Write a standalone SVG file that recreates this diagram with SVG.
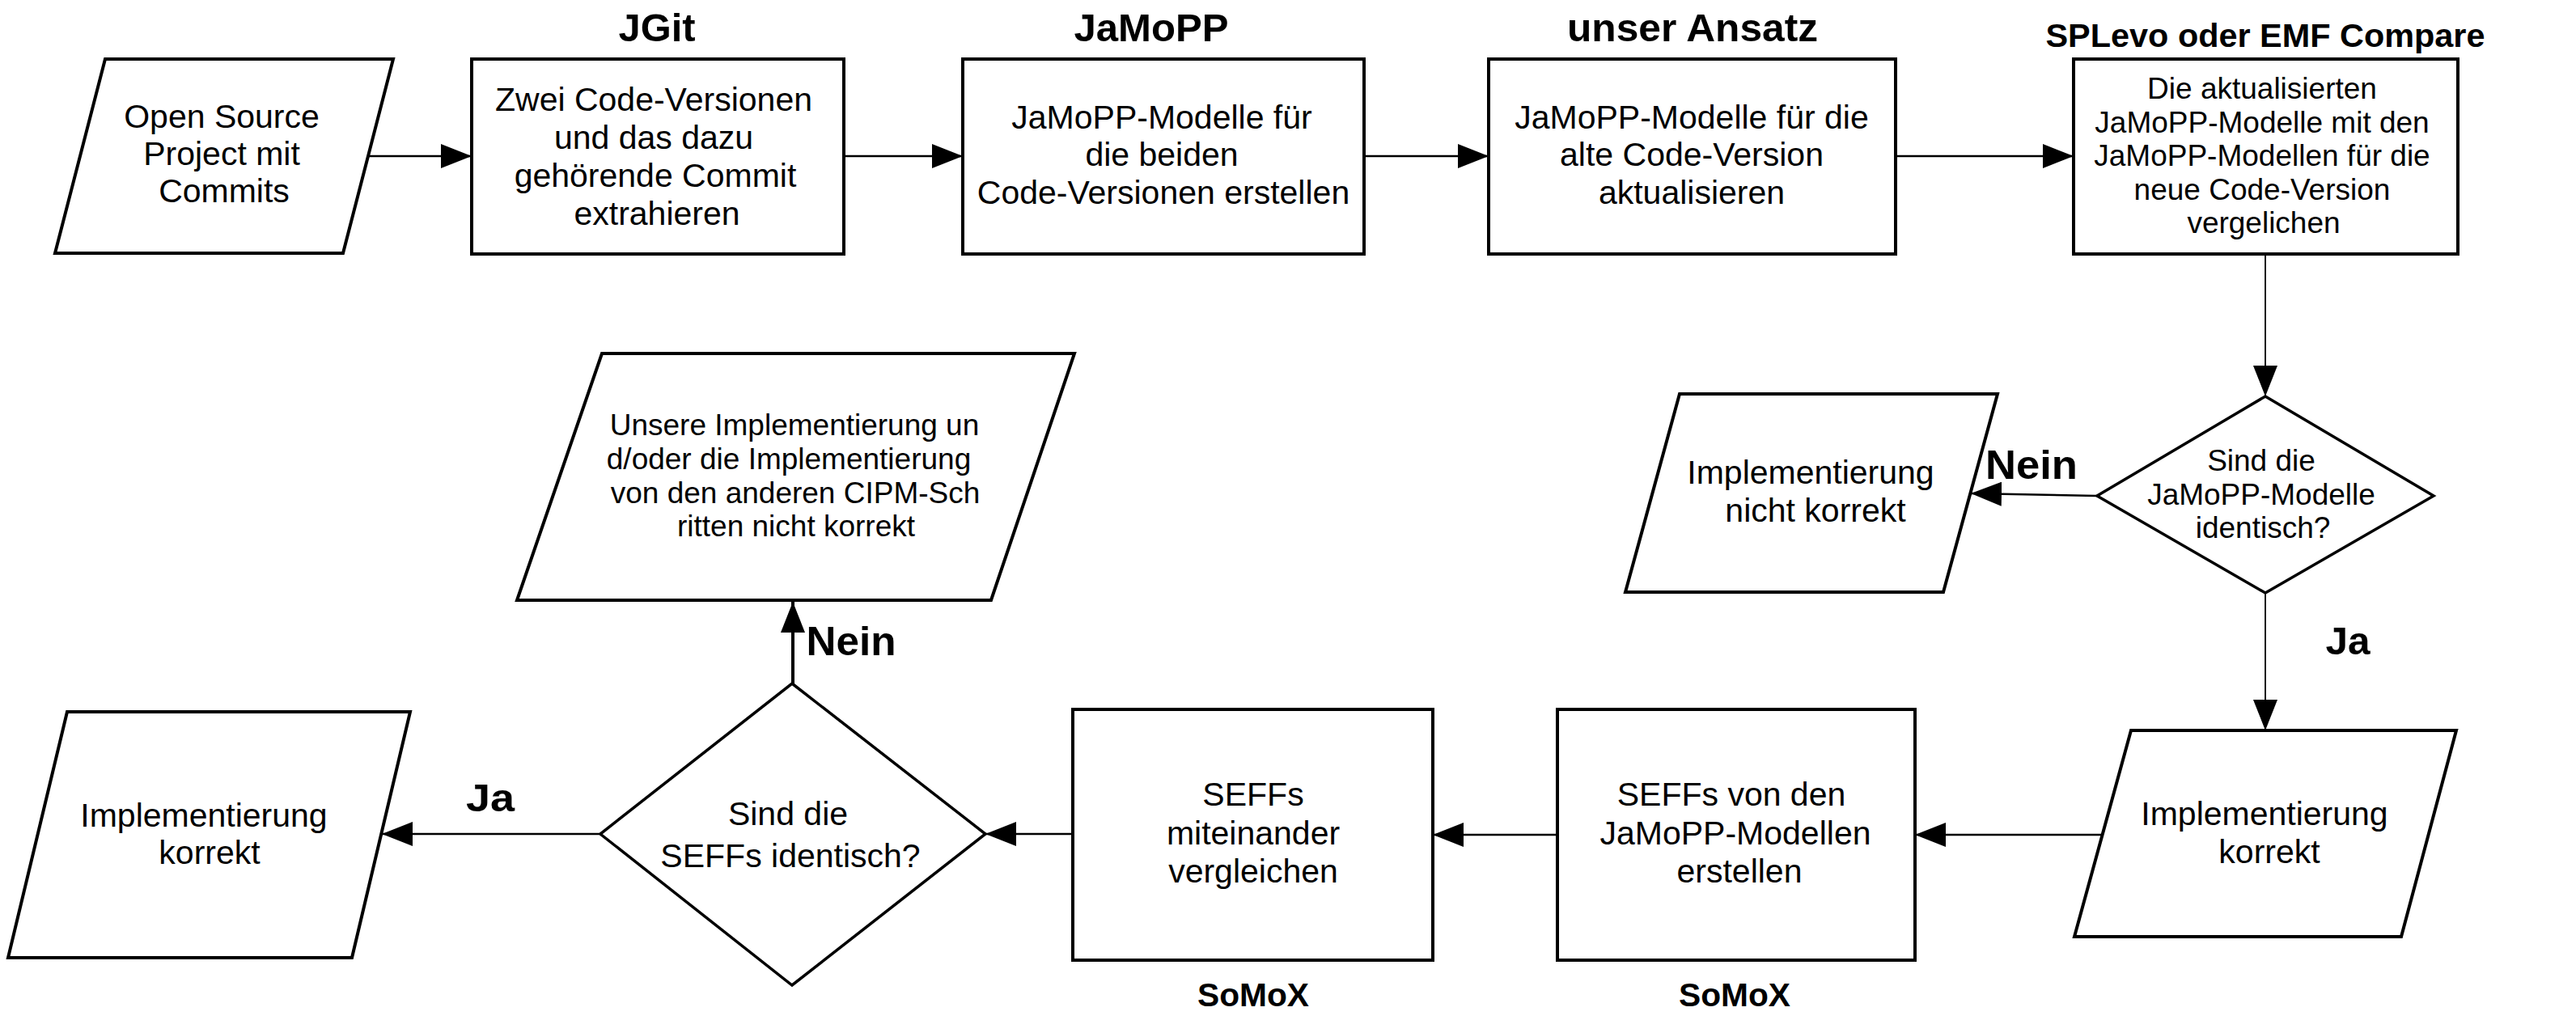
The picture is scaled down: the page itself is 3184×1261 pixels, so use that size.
<svg xmlns="http://www.w3.org/2000/svg" width="3184" height="1261" viewBox="0 0 3184 1261">
<style>
.n{fill:#fff;stroke:#000;stroke-width:4;stroke-linejoin:miter}
.d{fill:#fff;stroke:#000;stroke-width:3.5}
.t{font-family:"Liberation Sans",Arial,sans-serif;font-size:41px;fill:#000;text-anchor:middle}
.s{font-size:37px}
.b{font-family:"Liberation Sans",Arial,sans-serif;font-weight:bold;fill:#000;text-anchor:middle}
.c{fill:none;stroke:#000;stroke-width:2.5}
.thin{stroke-width:1.8}
.thick{stroke-width:4}
</style>
<defs>
<marker id="ah" markerUnits="userSpaceOnUse" markerWidth="38" markerHeight="30" refX="38" refY="15" orient="auto">
<path d="M0,0 L38,15 L0,30 Z" fill="#000"/>
</marker>
</defs>
<rect width="3184" height="1261" fill="#fff"/>

<g id="connectors">
<line class="c" x1="455" y1="193" x2="583" y2="193" marker-end="url(#ah)"/>
<line class="c" x1="1043" y1="193" x2="1190" y2="193" marker-end="url(#ah)"/>
<line class="c" x1="1686" y1="193" x2="1840" y2="193" marker-end="url(#ah)"/>
<line class="c" x1="2343" y1="193" x2="2563" y2="193" marker-end="url(#ah)"/>
<line class="c thin" x1="2800" y1="314" x2="2800" y2="490" marker-end="url(#ah)"/>
<line class="c" x1="2592" y1="613" x2="2436" y2="610" marker-end="url(#ah)"/>
<line class="c thin" x1="2800" y1="733" x2="2800" y2="903" marker-end="url(#ah)"/>
<line class="c" x1="2599" y1="1032" x2="2367" y2="1032" marker-end="url(#ah)"/>
<line class="c" x1="1925" y1="1032" x2="1771" y2="1032" marker-end="url(#ah)"/>
<line class="c" x1="1326" y1="1031" x2="1218" y2="1031" marker-end="url(#ah)"/>
<line class="c" x1="742" y1="1031" x2="472" y2="1031" marker-end="url(#ah)"/>
<line class="c thick" x1="980" y1="845" x2="980" y2="744" marker-end="url(#ah)"/>
</g>

<g id="labels">
<text class="b" x="812" y="51" font-size="48" textLength="95" lengthAdjust="spacingAndGlyphs">JGit</text>
<text class="b" x="1423" y="51" font-size="48" textLength="191" lengthAdjust="spacingAndGlyphs">JaMoPP</text>
<text class="b" x="2092" y="51" font-size="48" textLength="310" lengthAdjust="spacingAndGlyphs">unser Ansatz</text>
<text class="b" x="2800" y="58" font-size="40" textLength="543" lengthAdjust="spacingAndGlyphs">SPLevo oder EMF Compare</text>
<text class="b" x="2511" y="592" font-size="50" textLength="114" lengthAdjust="spacingAndGlyphs">Nein</text>
<text class="b" x="2902" y="809" font-size="48" textLength="55" lengthAdjust="spacingAndGlyphs">Ja</text>
<text class="b" x="1052" y="810" font-size="50" textLength="111" lengthAdjust="spacingAndGlyphs">Nein</text>
<text class="b" x="606" y="1003" font-size="48" textLength="60" lengthAdjust="spacingAndGlyphs">Ja</text>
<text class="b" x="1549" y="1244" font-size="40" textLength="138" lengthAdjust="spacingAndGlyphs">SoMoX</text>
<text class="b" x="2144" y="1244" font-size="40" textLength="138" lengthAdjust="spacingAndGlyphs">SoMoX</text>
</g>

<g id="open-source-project">
<polygon class="n" points="130,73 486,73 424,313 68,313"/>
<text class="t" x="274" y="158">Open Source</text>
<text class="t" x="274" y="204">Project mit</text>
<text class="t" x="277" y="250">Commits</text>
</g>

<g id="jgit">
<rect class="n" x="583" y="73" width="460" height="241"/>
<text class="t" x="808" y="137">Zwei Code-Versionen</text>
<text class="t" x="808" y="184">und das dazu</text>
<text class="t" x="810" y="231">gehörende Commit</text>
<text class="t" x="812" y="278">extrahieren</text>
</g>

<g id="jamopp">
<rect class="n" x="1190" y="73" width="496" height="241"/>
<text class="t" x="1436" y="159">JaMoPP-Modelle für</text>
<text class="t" x="1436" y="205">die beiden</text>
<text class="t" x="1438" y="252">Code-Versionen erstellen</text>
</g>

<g id="unser-ansatz">
<rect class="n" x="1840" y="73" width="503" height="241"/>
<text class="t" x="2091" y="159">JaMoPP-Modelle für die</text>
<text class="t" x="2091" y="205">alte Code-Version</text>
<text class="t" x="2091" y="252">aktualisieren</text>
</g>

<g id="vergleichen">
<rect class="n" x="2563" y="73" width="475" height="241"/>
<text class="t s" x="2796" y="122">Die aktualisierten</text>
<text class="t s" x="2796" y="163.5">JaMoPP-Modelle mit den</text>
<text class="t s" x="2796" y="205">JaMoPP-Modellen für die</text>
<text class="t s" x="2796" y="246.5">neue Code-Version</text>
<text class="t s" x="2798" y="288">vergelichen</text>
</g>

<g id="jamopp-identisch">
<polygon class="d" points="2800,490 3008,613 2800,733 2592,613"/>
<text class="t s" x="2795" y="582">Sind die</text>
<text class="t s" x="2795" y="623.5">JaMoPP-Modelle</text>
<text class="t s" x="2797" y="665">identisch?</text>
</g>

<g id="nicht-korrekt-1">
<polygon class="n" points="2076,487 2469,487 2402,732 2009,732"/>
<text class="t" x="2238" y="598">Implementierung</text>
<text class="t" x="2244" y="645">nicht korrekt</text>
</g>

<g id="korrekt-1">
<polygon class="n" points="2634,903 3036,903 2968,1158 2564,1158"/>
<text class="t" x="2799" y="1020">Implementierung</text>
<text class="t" x="2805" y="1067">korrekt</text>
</g>

<g id="seffs-erstellen">
<rect class="n" x="1925" y="877" width="442" height="310"/>
<text class="t" x="2140" y="996">SEFFs von den</text>
<text class="t" x="2145" y="1044">JaMoPP-Modellen</text>
<text class="t" x="2150" y="1091">erstellen</text>
</g>

<g id="seffs-vergleichen">
<rect class="n" x="1326" y="877" width="445" height="310"/>
<text class="t" x="1549" y="996">SEFFs</text>
<text class="t" x="1549" y="1044">miteinander</text>
<text class="t" x="1549" y="1091">vergleichen</text>
</g>

<g id="seffs-identisch">
<polygon class="d" points="979,845 1218,1031 979,1218 742,1031"/>
<text class="t" x="974" y="1020" font-size="44">Sind die</text>
<text class="t" x="977" y="1072" font-size="44">SEFFs identisch?</text>
</g>

<g id="nicht-korrekt-2">
<polygon class="n" points="744,437 1328,437 1225,742 639,742"/>
<text class="t s" x="982" y="538">Unsere Implementierung un</text>
<text class="t s" x="975" y="580">d/oder die Implementierung</text>
<text class="t s" x="983" y="621.5">von den anderen CIPM-Sch</text>
<text class="t s" x="984" y="663">ritten nicht korrekt</text>
</g>

<g id="korrekt-2">
<polygon class="n" points="83,880 507,880 435,1184 10,1184"/>
<text class="t" x="252" y="1022">Implementierung</text>
<text class="t" x="259" y="1068">korrekt</text>
</g>
</svg>
